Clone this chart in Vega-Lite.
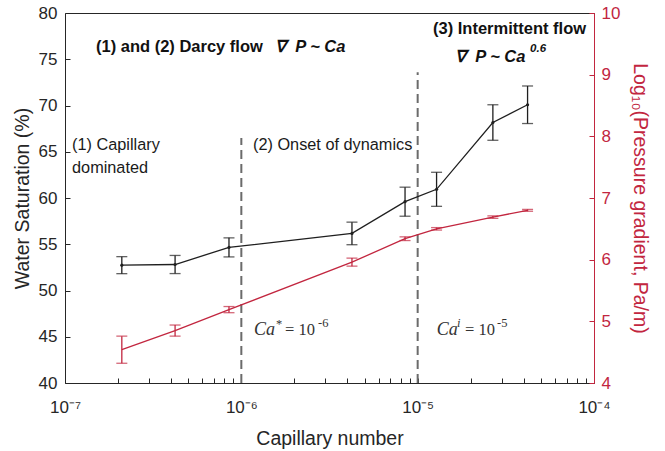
{
  "$schema": "https://vega.github.io/schema/vega-lite/v6.json",
  "width": 529,
  "height": 370,
  "autosize": "none",
  "padding": {"left": 65, "top": 13, "right": 71, "bottom": 68},
  "background": "white",
  "config": {
    "view": {"stroke": "#262626", "strokeWidth": 1},
    "font": "Liberation Sans",
    "axis": {
      "grid": false,
      "zindex": 1,
      "domainColor": "#262626",
      "tickColor": "#262626",
      "labelColor": "#262626",
      "titleColor": "#262626",
      "labelFont": "Liberation Sans",
      "titleFont": "Liberation Sans",
      "labelFontSize": 17,
      "titleFontSize": 19.5,
      "titleFontWeight": "normal",
      "domainWidth": 1,
      "tickWidth": 1,
      "labelOverlap": false,
      "labelFlush": false
    }
  },
  "datasets": {
    "flow": [
      {"ca": 2.1e-7, "sw": 52.74, "sw_err": 0.92, "lpg": 4.54, "lpg_err": 0.22},
      {"ca": 4.21e-7, "sw": 52.81, "sw_err": 0.98, "lpg": 4.85, "lpg_err": 0.09},
      {"ca": 8.51e-7, "sw": 54.66, "sw_err": 1.03, "lpg": 5.19, "lpg_err": 0.05},
      {"ca": 4.24e-6, "sw": 56.17, "sw_err": 1.22, "lpg": 5.96, "lpg_err": 0.065},
      {"ca": 8.48e-6, "sw": 59.6, "sw_err": 1.57, "lpg": 6.34, "lpg_err": 0.03},
      {"ca": 1.28e-5, "sw": 60.94, "sw_err": 1.84, "lpg": 6.5, "lpg_err": 0.02},
      {"ca": 2.67e-5, "sw": 68.16, "sw_err": 1.92, "lpg": 6.69, "lpg_err": 0.02},
      {"ca": 4.2e-5, "sw": 70.08, "sw_err": 2.03, "lpg": 6.8, "lpg_err": 0.015}
    ],
    "boundaries": [
      {"ca": 1e-6, "sw": 40, "sw_top": 66.5},
      {"ca": 1e-5, "sw": 40, "sw_top": 73.6}
    ],
    "notes": [
      {"kind": "heading", "note": "(1) and (2) Darcy flow", "ca": 1.499e-7, "sw": 76.37},
      {"kind": "heading", "note": "(3) Intermittent flow", "ca": 1.222e-5, "sw": 78.32},
      {"kind": "law", "note": "∇ \u00a0P ~ Ca", "ca": 1.552e-6, "sw": 76.37},
      {"kind": "law", "note": "∇ \u00a0P ~ Ca", "ca": 1.628e-5, "sw": 75.28},
      {"kind": "exponent", "note": "0.6", "ca": 4.34e-5, "sw": 76.1},
      {"kind": "regime", "note": "(1) Capillary", "ca": 1.096e-7, "sw": 65.75},
      {"kind": "regime", "note": "dominated", "ca": 1.096e-7, "sw": 63.25},
      {"kind": "regime", "note": "(2) Onset of dynamics", "ca": 1.165e-6, "sw": 65.75},
      {"kind": "symbol", "note": "Ca", "ca": 1.18e-6, "sw": 45.69},
      {"kind": "symbol", "note": "Ca", "ca": 1.282e-5, "sw": 45.69},
      {"kind": "relation", "note": "= 10", "ca": 1.769e-6, "sw": 45.69},
      {"kind": "relation", "note": "= 10", "ca": 1.856e-5, "sw": 45.69},
      {"kind": "sup", "note": "*", "ca": 1.573e-6, "sw": 46.35},
      {"kind": "sup", "note": "-6", "ca": 2.722e-6, "sw": 46.48},
      {"kind": "sup", "note": "-5", "ca": 2.818e-5, "sw": 46.48},
      {"kind": "sup_italic", "note": "i", "ca": 1.671e-5, "sw": 46.48}
    ]
  },
  "data": {"name": "flow"},
  "encoding": {
    "x": {
      "field": "ca",
      "type": "quantitative",
      "scale": {"type": "log", "domain": [1e-7, 1e-4], "nice": false},
      "axis": {
        "orient": "bottom",
        "title": "Capillary number",
        "titlePadding": 14,
        "offset": -5,
        "domain": false,
        "ticks": true,
        "tickSize": 5,
        "labelPadding": 16,
        "values": [1e-7, 2e-7, 3e-7, 4e-7, 5e-7, 6e-7, 7e-7, 8e-7, 9e-7, 1e-6, 2e-6, 3e-6, 4e-6, 5e-6, 6e-6, 7e-6, 8e-6, 9e-6, 1e-5, 2e-5, 3e-5, 4e-5, 5e-5, 6e-5, 7e-5, 8e-5, 9e-5, 1e-4],
        "labelExpr": "datum.value < 1.5e-7 ? '10⁻⁷' : (abs(datum.value - 1e-6) < 1e-9 ? '10⁻⁶' : (abs(datum.value - 1e-5) < 1e-8 ? '10⁻⁵' : (datum.value > 9.5e-5 ? '10⁻⁴' : '')))"
      }
    }
  },
  "layer": [
    {
      "encoding": {
        "y": {
          "field": "sw",
          "type": "quantitative",
          "scale": {"domain": [40, 80], "nice": false, "zero": false},
          "axis": {
            "orient": "left",
            "title": "Water Saturation (%)",
            "values": [40, 45, 50, 55, 60, 65, 70, 75, 80],
            "offset": -5,
            "domain": false,
            "ticks": true,
            "tickSize": 5,
            "labelPadding": 8,
            "titlePadding": 6
          }
        }
      },
      "layer": [
        {
          "data": {"name": "boundaries"},
          "mark": {"type": "rule", "strokeDash": [9, 5], "color": "#6b6b6b", "strokeWidth": 2},
          "encoding": {"y2": {"field": "sw_top"}}
        },
        {
          "mark": {"type": "line", "color": "#1f1f1f", "strokeWidth": 1.3}
        },
        {
          "mark": {"type": "errorbar", "color": "#1f1f1f", "thickness": 1.3, "ticks": {"size": 11}},
          "encoding": {
            "y": {"field": "sw", "type": "quantitative"},
            "yError": {"field": "sw_err"}
          }
        },
        {
          "mark": {"type": "circle", "color": "#1f1f1f", "size": 10, "opacity": 1}
        },
        {
          "data": {"name": "notes"},
          "transform": [{"filter": "datum.kind == 'heading'"}],
          "mark": {"type": "text", "align": "left", "baseline": "middle", "fontWeight": "bold", "fontSize": 16.5, "color": "#111"},
          "encoding": {"text": {"field": "note"}}
        },
        {
          "data": {"name": "notes"},
          "transform": [{"filter": "datum.kind == 'law'"}],
          "mark": {"type": "text", "align": "left", "baseline": "middle", "fontWeight": "bold", "fontStyle": "italic", "fontSize": 16.5, "color": "#111"},
          "encoding": {"text": {"field": "note"}}
        },
        {
          "data": {"name": "notes"},
          "transform": [{"filter": "datum.kind == 'exponent'"}],
          "mark": {"type": "text", "align": "left", "baseline": "middle", "fontWeight": "bold", "fontStyle": "italic", "fontSize": 11.5, "color": "#111"},
          "encoding": {"text": {"field": "note"}}
        },
        {
          "data": {"name": "notes"},
          "transform": [{"filter": "datum.kind == 'regime'"}],
          "mark": {"type": "text", "align": "left", "baseline": "middle", "fontSize": 16.3, "color": "#1a1a1a"},
          "encoding": {"text": {"field": "note"}}
        },
        {
          "data": {"name": "notes"},
          "transform": [{"filter": "datum.kind == 'symbol'"}],
          "mark": {"type": "text", "align": "left", "baseline": "middle", "font": "Liberation Serif", "fontStyle": "italic", "fontSize": 18, "color": "#333"},
          "encoding": {"text": {"field": "note"}}
        },
        {
          "data": {"name": "notes"},
          "transform": [{"filter": "datum.kind == 'relation'"}],
          "mark": {"type": "text", "align": "left", "baseline": "middle", "font": "Liberation Serif", "fontSize": 16.5, "color": "#333"},
          "encoding": {"text": {"field": "note"}}
        },
        {
          "data": {"name": "notes"},
          "transform": [{"filter": "datum.kind == 'sup'"}],
          "mark": {"type": "text", "align": "left", "baseline": "middle", "font": "Liberation Serif", "fontSize": 12.5, "color": "#333"},
          "encoding": {"text": {"field": "note"}}
        },
        {
          "data": {"name": "notes"},
          "transform": [{"filter": "datum.kind == 'sup_italic'"}],
          "mark": {"type": "text", "align": "left", "baseline": "middle", "font": "Liberation Serif", "fontStyle": "italic", "fontSize": 12.5, "color": "#333"},
          "encoding": {"text": {"field": "note"}}
        }
      ]
    },
    {
      "encoding": {
        "y": {
          "field": "lpg",
          "type": "quantitative",
          "scale": {"domain": [4, 10], "nice": false, "zero": false},
          "axis": {
            "orient": "right",
            "title": "Log₁₀(Pressure gradient, Pa/m)",
            "values": [4, 5, 6, 7, 8, 9, 10],
            "ticks": true,
            "tickSize": -5,
            "domainColor": "#c2263f",
            "tickColor": "#c2263f",
            "labelColor": "#c2263f",
            "titleColor": "#c2263f",
            "labelPadding": 12,
            "titlePadding": 10
          }
        }
      },
      "layer": [
        {
          "mark": {"type": "line", "color": "#c2263f", "strokeWidth": 1.3}
        },
        {
          "mark": {"type": "errorbar", "color": "#c2263f", "thickness": 1.3, "ticks": {"size": 11}},
          "encoding": {
            "y": {"field": "lpg", "type": "quantitative"},
            "yError": {"field": "lpg_err"}
          }
        }
      ]
    }
  ],
  "resolve": {"scale": {"y": "independent"}}
}
